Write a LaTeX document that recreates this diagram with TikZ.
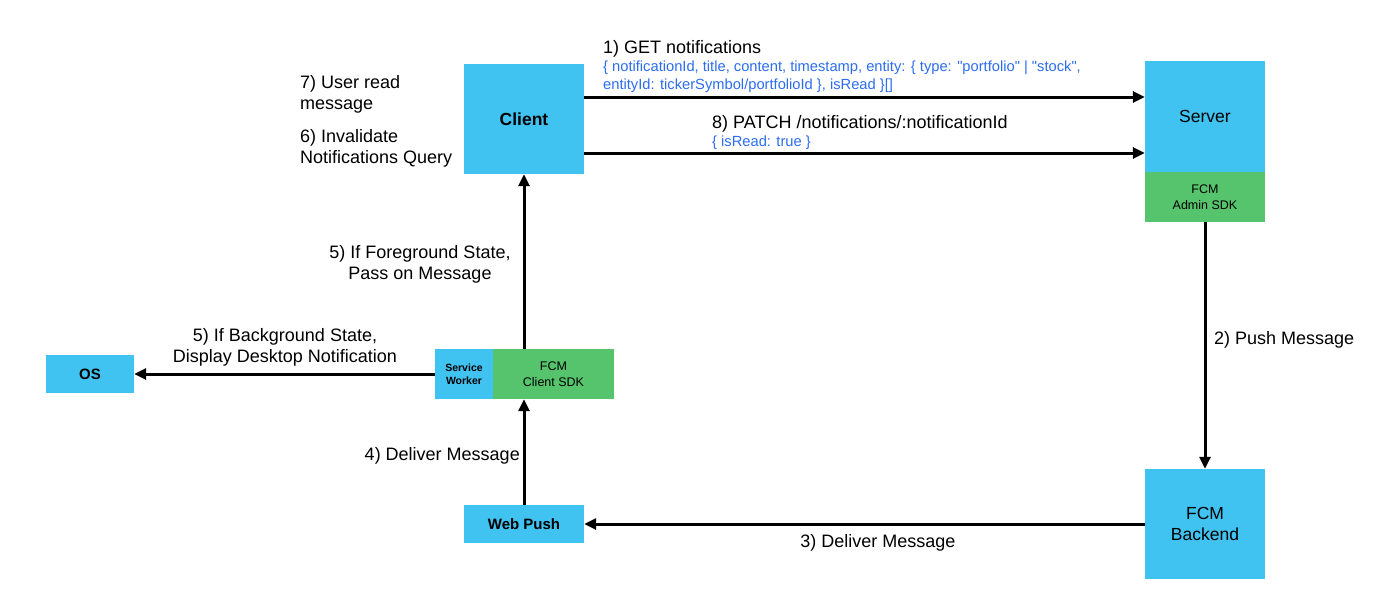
\documentclass[tikz,border=0pt]{standalone}
\usepackage{fontspec}
\setmainfont{Liberation Sans}
\newfontfamily\codefont{Liberation Sans}
\usetikzlibrary{arrows.meta}
\definecolor{boxblue}{HTML}{41C3F1}
\definecolor{boxgreen}{HTML}{56C46C}
\definecolor{txtblue}{HTML}{2B6CF0}
\begin{document}
\begin{tikzpicture}[x=1pt,y=-1pt,
  boxbase/.style={draw=none, inner sep=0pt, align=center, text=black},
  bluebox/.style={boxbase, fill=boxblue},
  greenbox/.style={boxbase, fill=boxgreen},
  conn/.style={line width=3pt, -{Triangle[length=12pt,width=11pt]}},
  lbl/.style={font=\fontsize{18}{21}\selectfont, inner sep=0pt},
  sublbl/.style={font=\codefont\fontsize{14.7}{18}\selectfont, text=txtblue, inner sep=0pt, align=left},
  bigtxt/.style={font=\fontsize{17.5}{21}\selectfont},
  midtxt/.style={font=\fontsize{15}{17}\selectfont},
  smalltxt/.style={font=\fontsize{12.5}{16}\selectfont},
  tinytxt/.style={font=\bfseries\fontsize{10.5}{13}\selectfont}]
\useasboundingbox (0,0) rectangle (1393,613);
% boxes
\node[bluebox, bigtxt, minimum width=120pt, minimum height=110pt] (client) at (524,119) {\bfseries Client};
\node[bluebox, bigtxt, minimum width=120pt, minimum height=111pt] (server) at (1205,116.5) {Server};
\node[greenbox, smalltxt, minimum width=120pt, minimum height=50pt] (admin) at (1205,197) {FCM\\Admin SDK};
\node[bluebox, bigtxt, minimum width=120pt, minimum height=110pt] (backend) at (1205,524) {FCM\\Backend};
\node[bluebox, midtxt, minimum width=120pt, minimum height=38pt] (webpush) at (524,524) {\bfseries Web Push};
\node[bluebox, tinytxt, minimum width=58pt, minimum height=50pt] (sw) at (464,374) {Service\\Worker};
\node[greenbox, smalltxt, minimum width=121pt, minimum height=50pt] (sdk) at (553.5,374) {FCM\\Client SDK};
\node[bluebox, midtxt, minimum width=88pt, minimum height=38pt] (os) at (90,374) {\bfseries OS};
% connectors
\draw[conn] ([yshift=22pt]client.east) -- ([yshift=22pt]client.east -| server.west);
\draw[conn] ([yshift=-34pt]client.east) -- ([yshift=-34pt]client.east -| server.west);
\draw[conn] (admin.south) -- (backend.north);
\draw[conn] (backend.west) -- (backend.west -| webpush.east);
\draw[conn] (webpush.north) -- (webpush.north |- sdk.south);
\draw[conn] (webpush.north |- sdk.north) -- (client.south);
\draw[conn] (sw.west) -- (os.east);
% labels
\node[lbl, anchor=west] (l1) at (603,49) {1) GET notifications};
\node[sublbl, anchor=west] (l1b) at (603,77) {\{ notificationId, title, content, timestamp, entity: \{ type: "portfolio" | "stock",\\entityId: tickerSymbol/portfolioId \}, isRead \}[]};
\node[lbl, anchor=west] (l8) at (712,124) {8) PATCH /notifications/:notificationId};
\node[sublbl, anchor=west] (l8b) at (712,143) {\{ isRead: true \}};
\node[lbl, anchor=west] (l2) at (1214,340) {2) Push Message};
\node[lbl] (l3) at (878,543) {3) Deliver Message};
\node[lbl, anchor=east] (l4) at (520,456) {4) Deliver Message};
\node[lbl, align=center] (l5a) at (420,264.5) {5) If Foreground State,\\Pass on Message};
\node[lbl, align=center] (l5b) at (285,347) {5) If Background State,\\Display Desktop Notification};
\node[lbl, align=left, anchor=west] (l7) at (300,94.5) {7) User read\\message};
\node[lbl, align=left, anchor=west] (l6) at (300,148) {6) Invalidate\\Notifications Query};
\end{tikzpicture}
\end{document}
